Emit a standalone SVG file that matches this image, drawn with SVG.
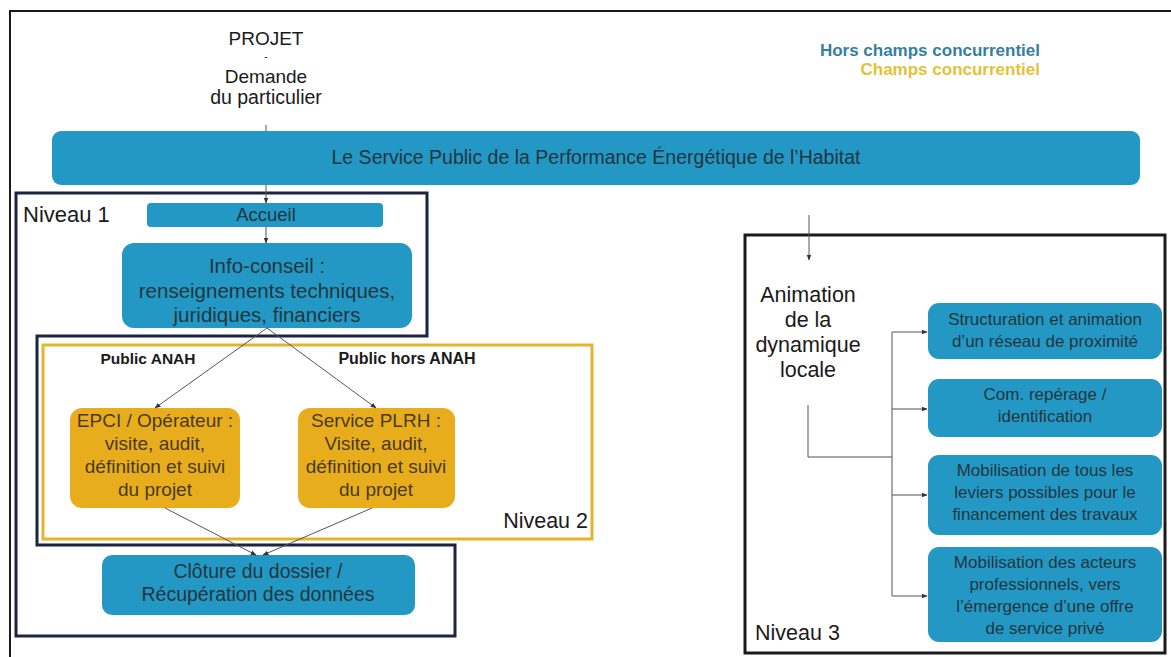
<svg xmlns="http://www.w3.org/2000/svg" width="1171" height="657" viewBox="0 0 1171 657">
<style>
text{font-family:"Liberation Sans",Arial,sans-serif;}
.blue{fill:#2398c4;}
.gold{fill:#e8ad1c;}
.bt{fill:#22363f;text-anchor:middle;}
.gt{fill:#4a3a1c;text-anchor:middle;}
.kt{fill:#1a1a1a;text-anchor:middle;}
.frame{fill:none;stroke:#1b2440;stroke-width:3;}
.conn{fill:none;stroke:#555;stroke-width:1;}
</style>
<defs>
<marker id="ah" viewBox="0 0 10 10" refX="9" refY="5" markerWidth="6" markerHeight="6" orient="auto-start-reverse" markerUnits="userSpaceOnUse">
<path d="M0,1 L10,5 L0,9 Z" fill="#333"/>
</marker>
</defs>
<rect width="1171" height="657" fill="#ffffff"/>
<g id="outer-frame">
<path d="M10,657 L10,11 L1171,11" fill="none" stroke="#1a1a1a" stroke-width="2"/>
</g>
<g id="projet">
<text class="kt" x="266" y="45" font-size="19">PROJET</text>
<text class="kt" x="266" y="60" font-size="10">-</text>
<text class="kt" x="266" y="83" font-size="19">Demande</text>
<text class="kt" x="266" y="104" font-size="19.5">du particulier</text>
</g>
<g id="legend">
<text x="1040" y="56" font-size="17" font-weight="bold" fill="#347fa0" text-anchor="end">Hors champs concurrentiel</text>
<text x="1040" y="75" font-size="17" font-weight="bold" fill="#e2c236" text-anchor="end">Champs concurrentiel</text>
</g>
<g id="banner">
<rect class="blue" x="52" y="131" width="1088" height="54" rx="9"/>
<text class="bt" x="596" y="164" font-size="19.5">Le Service Public de la Performance Énergétique de l’Habitat</text>
</g>
<g id="niveau1">
<path class="frame" d="M16,193 L427,193 L427,336 L37,336 L37,545 L455,545 L455,636 L16,636 Z"/>
<text x="23" y="222" font-size="22" fill="#1a1a1a">Niveau 1</text>
</g>
<g id="niveau2">
<rect x="43" y="345" width="549" height="194" fill="none" stroke="#e2b52c" stroke-width="3"/>
<text x="588" y="528" font-size="21.5" fill="#1a1a1a" text-anchor="end">Niveau 2</text>
<text class="kt" x="148" y="364" font-size="15.5" font-weight="bold">Public ANAH</text>
<text class="kt" x="407" y="364" font-size="16" font-weight="bold">Public hors ANAH</text>
</g>
<g id="niveau3">
<rect x="745" y="235" width="420" height="418" fill="none" stroke="#1a1a1a" stroke-width="3"/>
<text x="755" y="640" font-size="21.5" fill="#1a1a1a">Niveau 3</text>
</g>
<g id="accueil">
<rect class="blue" x="147" y="203" width="236" height="24" rx="4"/>
<text class="bt" x="266" y="221" font-size="18.5">Accueil</text>
</g>
<g id="info-conseil">
<rect class="blue" x="122" y="243" width="290" height="85" rx="12"/>
<text class="bt" x="267" y="273" font-size="20.5">Info-conseil :</text>
<text class="bt" x="267" y="298" font-size="20.5">renseignements techniques,</text>
<text class="bt" x="267" y="322" font-size="20.5">juridiques, financiers</text>
</g>
<g id="epci">
<rect class="gold" x="70" y="408" width="170" height="100" rx="12"/>
<text class="gt" x="155" y="427" font-size="19">EPCI / Opérateur :</text>
<text class="gt" x="155" y="450" font-size="19">visite, audit,</text>
<text class="gt" x="155" y="473" font-size="19">définition et suivi</text>
<text class="gt" x="155" y="496" font-size="19">du projet</text>
</g>
<g id="plrh">
<rect class="gold" x="298" y="408" width="157" height="100" rx="12"/>
<text class="gt" x="376" y="427" font-size="19">Service PLRH :</text>
<text class="gt" x="376" y="450" font-size="19">Visite, audit,</text>
<text class="gt" x="376" y="473" font-size="19">définition et suivi</text>
<text class="gt" x="376" y="496" font-size="19">du projet</text>
</g>
<g id="cloture">
<rect class="blue" x="102" y="555" width="313" height="60" rx="10"/>
<text class="bt" x="258" y="578" font-size="19.5">Clôture du dossier /</text>
<text class="bt" x="258" y="601" font-size="19.5">Récupération des données</text>
</g>
<g id="animation">
<text class="kt" x="808" y="302" font-size="21.5">Animation</text>
<text class="kt" x="808" y="327" font-size="21.5">de la</text>
<text class="kt" x="808" y="352" font-size="21.5">dynamique</text>
<text class="kt" x="808" y="377" font-size="21.5">locale</text>
</g>
<g id="box-structuration">
<rect class="blue" x="928" y="303" width="234" height="56" rx="11"/>
<text class="bt" x="1045" y="325" font-size="17">Structuration et animation</text>
<text class="bt" x="1045" y="347" font-size="17">d’un réseau de proximité</text>
</g>
<g id="box-com">
<rect class="blue" x="928" y="379" width="234" height="58" rx="11"/>
<text class="bt" x="1045" y="400" font-size="17">Com. repérage /</text>
<text class="bt" x="1045" y="422" font-size="17">identification</text>
</g>
<g id="box-financement">
<rect class="blue" x="928" y="455" width="234" height="80" rx="11"/>
<text class="bt" x="1045" y="476" font-size="17">Mobilisation de tous les</text>
<text class="bt" x="1045" y="498" font-size="17">leviers possibles pour le</text>
<text class="bt" x="1045" y="520" font-size="17">financement des travaux</text>
</g>
<g id="box-acteurs">
<rect class="blue" x="928" y="547" width="234" height="95" rx="11"/>
<text class="bt" x="1045" y="568" font-size="17">Mobilisation des acteurs</text>
<text class="bt" x="1045" y="590" font-size="17">professionnels, vers</text>
<text class="bt" x="1045" y="612" font-size="17">l’émergence d’une offre</text>
<text class="bt" x="1045" y="634" font-size="17">de service privé</text>
</g>
<g id="connectors">
<line class="conn" x1="266" y1="125" x2="266" y2="131"/>
<line class="conn" x1="266" y1="185" x2="266" y2="203" marker-end="url(#ah)"/>
<line class="conn" x1="266" y1="227" x2="266" y2="243" marker-end="url(#ah)"/>
<line class="conn" x1="267" y1="328" x2="155" y2="408" marker-end="url(#ah)"/>
<line class="conn" x1="267" y1="328" x2="376" y2="408" marker-end="url(#ah)"/>
<line class="conn" x1="165" y1="508" x2="256" y2="555" marker-end="url(#ah)"/>
<line class="conn" x1="372" y1="508" x2="263" y2="555" marker-end="url(#ah)"/>
<line class="conn" x1="809" y1="215" x2="809" y2="260" marker-end="url(#ah)"/>
<polyline class="conn" points="808,405 808,457 892,457"/>
<line class="conn" x1="892" y1="332" x2="892" y2="596"/>
<line class="conn" x1="892" y1="332" x2="927" y2="332" marker-end="url(#ah)"/>
<line class="conn" x1="892" y1="409" x2="927" y2="409" marker-end="url(#ah)"/>
<line class="conn" x1="892" y1="495" x2="927" y2="495" marker-end="url(#ah)"/>
<line class="conn" x1="892" y1="596" x2="927" y2="596" marker-end="url(#ah)"/>
</g>
</svg>
